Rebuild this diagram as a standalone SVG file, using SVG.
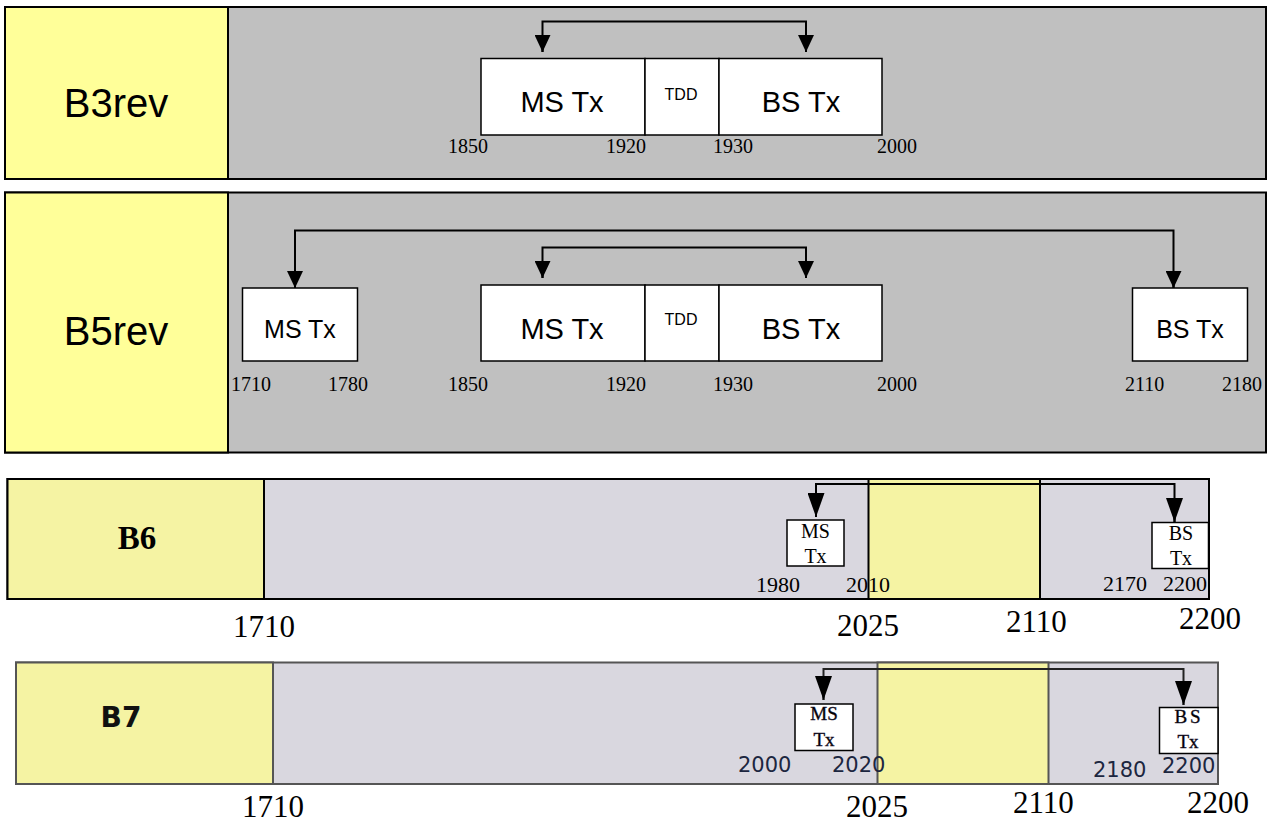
<svg xmlns="http://www.w3.org/2000/svg" width="1271" height="823" viewBox="0 0 1271 823">
<defs>
<style>
.frame{stroke:#000;stroke-width:2;}
.yel1{fill:#FFFF99;}
.gry1{fill:#C0C0C0;}
.yel2{fill:#F5F3A3;}
.gry2{fill:#D9D7DF;}
.box{fill:#fff;stroke:#000;stroke-width:1.5;}
.sans{font-family:"Liberation Sans",Arial,sans-serif;fill:#000;}
.serif{font-family:"Liberation Serif","Times New Roman",serif;fill:#000;}
.num1{font-family:"Liberation Serif","Times New Roman",serif;font-size:20px;fill:#000;}
.num2{font-family:"Liberation Serif","Times New Roman",serif;font-size:22px;fill:#000;}
.big{font-family:"Liberation Serif","Times New Roman",serif;font-size:31px;fill:#000;}
.num7{font-family:"DejaVu Sans",Verdana,sans-serif;font-size:21px;fill:#1c2640;}
.conn{fill:none;stroke:#000;stroke-width:2;}
.conn7{fill:none;stroke:#222;stroke-width:2;}
</style>
<marker id="ah" markerWidth="16" markerHeight="17" refX="8" refY="17" orient="0" markerUnits="userSpaceOnUse">
<path d="M0,0 L16,0 L8,17 Z" fill="#000"/>
</marker>
<marker id="ah2" markerWidth="17" markerHeight="24" refX="8.5" refY="24" orient="0" markerUnits="userSpaceOnUse">
<path d="M0,0 L17,0 L8.5,24 Z" fill="#000"/>
</marker>
</defs>

<!-- Row B3rev -->
<g id="b3rev">
<rect x="5" y="7" width="1261" height="172" class="gry1 frame"/>
<rect x="5" y="7" width="223" height="172" class="yel1 frame"/>
<text x="116" y="117" class="sans" font-size="40" text-anchor="middle">B3rev</text>
</g>
<g id="b3-ms">
<rect x="481" y="58.5" width="164" height="76.5" class="box"/>
<text x="562" y="112" class="sans" font-size="29" text-anchor="middle">MS Tx</text>
</g>
<g id="b3-tdd">
<rect x="645" y="58.5" width="74" height="76.5" class="box"/>
<text x="681" y="100" class="sans" font-size="16" text-anchor="middle">TDD</text>
</g>
<g id="b3-bs">
<rect x="719" y="58.5" width="163" height="76.5" class="box"/>
<text x="801" y="112" class="sans" font-size="29" text-anchor="middle">BS Tx</text>
</g>
<g id="b3-labels">
<text x="448" y="153" class="num1">1850</text>
<text x="606" y="153" class="num1">1920</text>
<text x="713" y="153" class="num1">1930</text>
<text x="877" y="153" class="num1">2000</text>
</g>

<!-- Row B5rev -->
<g id="b5rev">
<rect x="5" y="192.5" width="1261" height="260" class="gry1 frame"/>
<rect x="5" y="192.5" width="223" height="260" class="yel1 frame"/>
<text x="116" y="345" class="sans" font-size="40" text-anchor="middle">B5rev</text>
</g>
<g id="b5-ms1">
<rect x="242.5" y="288" width="115" height="73" class="box"/>
<text x="300" y="338" class="sans" font-size="25" text-anchor="middle">MS Tx</text>
</g>
<g id="b5-ms">
<rect x="481" y="285" width="164" height="76" class="box"/>
<text x="562" y="339" class="sans" font-size="29" text-anchor="middle">MS Tx</text>
</g>
<g id="b5-tdd">
<rect x="645" y="285" width="74" height="76" class="box"/>
<text x="681" y="325" class="sans" font-size="16" text-anchor="middle">TDD</text>
</g>
<g id="b5-bs">
<rect x="719" y="285" width="163" height="76" class="box"/>
<text x="801" y="339" class="sans" font-size="29" text-anchor="middle">BS Tx</text>
</g>
<g id="b5-bs2">
<rect x="1132.5" y="288" width="115" height="73" class="box"/>
<text x="1190" y="338" class="sans" font-size="25" text-anchor="middle">BS Tx</text>
</g>
<g id="b5-labels">
<text x="231" y="391" class="num1">1710</text>
<text x="328" y="391" class="num1">1780</text>
<text x="448" y="391" class="num1">1850</text>
<text x="606" y="391" class="num1">1920</text>
<text x="713" y="391" class="num1">1930</text>
<text x="877" y="391" class="num1">2000</text>
<text x="1125" y="391" class="num1">2110</text>
<text x="1222" y="391" class="num1">2180</text>
</g>

<!-- Row B6 -->
<g id="b6">
<rect x="7.5" y="479" width="1201.5" height="120" class="gry2 frame"/>
<rect x="7.5" y="479" width="256.5" height="120" class="yel2 frame"/>
<rect x="868.5" y="479" width="171.5" height="120" class="yel2 frame"/>
<text x="137" y="549" class="serif" font-size="33" font-weight="bold" text-anchor="middle">B6</text>
</g>
<g id="b6-ms">
<rect x="787" y="520" width="57" height="46" class="box"/>
<text x="815.5" y="538" class="serif" font-size="20" text-anchor="middle">MS</text>
<text x="815.5" y="563" class="serif" font-size="20" text-anchor="middle">Tx</text>
</g>
<g id="b6-bs">
<rect x="1152" y="522.5" width="56.5" height="46" class="box"/>
<text x="1181" y="540" class="serif" font-size="20" text-anchor="middle">BS</text>
<text x="1181" y="565" class="serif" font-size="20" text-anchor="middle">Tx</text>
</g>
<g id="b6-labels">
<text x="756" y="592" class="num2">1980</text>
<text x="846" y="592" class="num2">2010</text>
<text x="1103" y="591" class="num2">2170</text>
<text x="1163" y="591" class="num2">2200</text>
<text x="233" y="637" class="big">1710</text>
<text x="837" y="636" class="big">2025</text>
<text x="1006" y="632" class="big">2110</text>
<text x="1179" y="629" class="big">2200</text>
</g>

<!-- Row B7 -->
<g id="b7">
<rect x="16" y="662.5" width="1202" height="121.5" class="gry2" stroke="#555" stroke-width="2"/>
<rect x="16" y="662.5" width="257" height="121.5" class="yel2" stroke="#555" stroke-width="2"/>
<rect x="877.5" y="662.5" width="171" height="121.5" class="yel2" stroke="#555" stroke-width="2"/>
<text x="121" y="727" font-family="'DejaVu Sans',Verdana,sans-serif" font-size="28" font-weight="bold" fill="#111" text-anchor="middle">B7</text>
</g>
<g id="b7-ms">
<rect x="795" y="704" width="58" height="46.5" class="box" stroke="#333"/>
<text x="824" y="720" class="serif" font-size="19" fill="#1e1630" stroke="#1e1630" stroke-width="0.4" text-anchor="middle">MS</text>
<text x="824" y="746" class="serif" font-size="19" fill="#1e1630" stroke="#1e1630" stroke-width="0.4" text-anchor="middle">Tx</text>
</g>
<g id="b7-bs">
<rect x="1159.5" y="707.5" width="58.5" height="46" class="box" stroke="#333"/>
<text x="1189" y="723" class="serif" font-size="19" fill="#1e1630" stroke="#1e1630" stroke-width="0.4" text-anchor="middle" letter-spacing="3">BS</text>
<text x="1188" y="748" class="serif" font-size="19" fill="#1e1630" stroke="#1e1630" stroke-width="0.4" text-anchor="middle">Tx</text>
</g>
<g id="b7-labels">
<text x="738" y="772" class="num7">2000</text>
<text x="832" y="772" class="num7">2020</text>
<text x="1093" y="777" class="num7">2180</text>
<text x="1162" y="773" class="num7">2200</text>
<text x="242" y="817" class="big" fill="#333">1710</text>
<text x="846" y="817" class="big" fill="#222">2025</text>
<text x="1013" y="813" class="big" fill="#222">2110</text>
<text x="1187" y="813" class="big" fill="#222">2200</text>
</g>

<!-- Connectors -->
<g id="connectors">
<path d="M542.5,52 V21.5 H806 V52" class="conn"/>
<path d="M542.5,35 V52" class="conn" marker-end="url(#ah)"/>
<path d="M806,35 V52" class="conn" marker-end="url(#ah)"/>

<path d="M295,288 V230.5 H1173.5 V288" class="conn"/>
<path d="M295,271 V288" class="conn" marker-end="url(#ah)"/>
<path d="M1173.5,271 V288" class="conn" marker-end="url(#ah)"/>

<path d="M542.5,278 V247.5 H806 V278" class="conn"/>
<path d="M542.5,261 V278" class="conn" marker-end="url(#ah)"/>
<path d="M806,261 V278" class="conn" marker-end="url(#ah)"/>

<path d="M816,517 V484 H1174.5 V522" class="conn"/>
<path d="M816,493 V517" class="conn" marker-end="url(#ah2)"/>
<path d="M1174.5,498 V522" class="conn" marker-end="url(#ah2)"/>

<path d="M823.5,700 V669 H1183.5 V705" class="conn7"/>
<path d="M823.5,677 V700" class="conn7" marker-end="url(#ah2)"/>
<path d="M1183.5,682 V705" class="conn7" marker-end="url(#ah2)"/>
</g>
</svg>
